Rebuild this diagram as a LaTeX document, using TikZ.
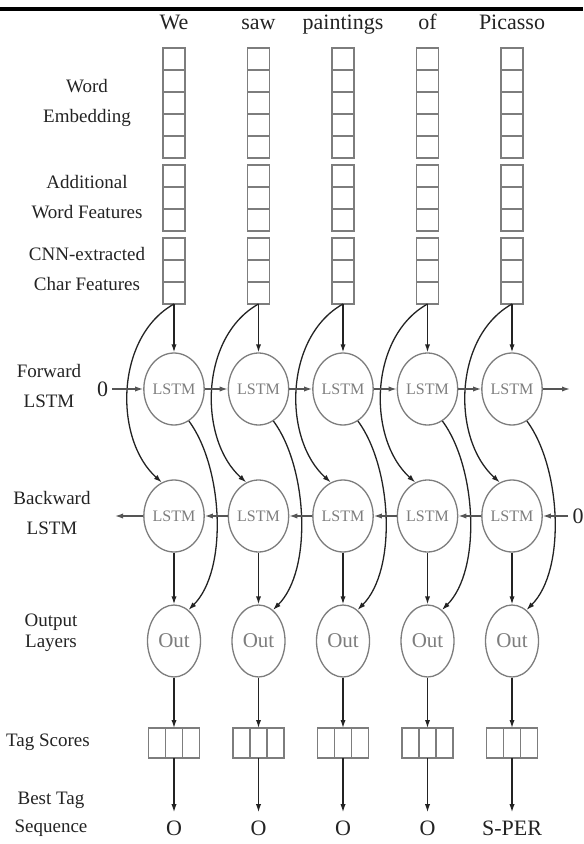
\documentclass[tikz,border=0pt]{standalone}
\usepackage{fontspec}
\setmainfont{Liberation Serif}
\usetikzlibrary{arrows.meta,positioning,shapes.geometric}
\definecolor{boxgray}{RGB}{125,125,125}
\definecolor{linkgray}{RGB}{85,85,85}
\definecolor{inkdark}{RGB}{35,35,35}

\begin{document}
\begin{tikzpicture}[
    x=5pt,y=5pt,
    cell/.style={rectangle,draw=boxgray,line width=0.65pt,minimum width=11pt,
      minimum height=11pt,inner sep=0pt,outer sep=0pt},
    tagcell/.style={rectangle,draw=boxgray,line width=0.65pt,minimum width=8.5pt,
      minimum height=15pt,inner sep=0pt,outer sep=0pt},
    lstm/.style={ellipse,draw=boxgray,line width=0.65pt,minimum width=26.5pt,
      minimum height=36pt,inner sep=0pt,text=boxgray,font=\fontsize{8}{8}\selectfont},
    outnode/.style={lstm,font=\fontsize{10.5}{10.5}\selectfont},
    word/.style={font=\fontsize{11}{11}\selectfont,inner sep=0pt,text=inkdark},
    lbl/.style={align=center,font=\fontsize{9.5}{15}\selectfont,inner sep=0pt,text=inkdark},
    arrow/.style={-{Latex[length=4pt,width=2.6pt]},line width=0.65pt,draw=inkdark},
    recur/.style={arrow,draw=linkgray}
  ]
    \useasboundingbox (0,0) rectangle (58.3,-84.4);
    \fill (0,-0.7) rectangle (58.3,-1.1);

    % row labels
    \node[lbl] (lemb) at (8.7,-10.3) {Word\\Embedding};
    \node[lbl] (lfeat) at (8.7,-19.75) {Additional\\Word Features};
    \node[lbl] (lchar) at (8.7,-26.9) {CNN-extracted\\Char Features};
    \node[lbl] (lfwd) at (4.9,-38.6) {Forward\\LSTM};
    \node[lbl] (lbwd) at (5.2,-51.3) {Backward\\LSTM};
    \node[lbl] (lout) at (5.1,-63.25) {Output\\[-4.5pt]Layers};
    \node[lbl] (ltag) at (4.8,-74.2) {Tag Scores};
    \node[lbl] (lbest) at (5.1,-81.4) {Best Tag\\[-1pt]Sequence};

    % one column per word
    \foreach \c/\x/\w/\t in {1/17.4/We/O, 2/25.85/saw/O, 3/34.3/paintings/O,
                             4/42.75/of/O, 5/51.2/Picasso/S-PER} {
      \node[word,anchor=base] (w\c) at (\x,-2.95) {\w};
      \node[cell] (e\c-1) at (\x,-5.9) {};
      \foreach \k [count=\j from 2] in {1,...,4}
        \node[cell,below=0pt of e\c-\k] (e\c-\j) {};
      \node[cell,below=3.5pt of e\c-5] (a\c-1) {};
      \node[cell,below=0pt of a\c-1] (a\c-2) {};
      \node[cell,below=0pt of a\c-2] (a\c-3) {};
      \node[cell,below=3.5pt of a\c-3] (ch\c-1) {};
      \node[cell,below=0pt of ch\c-1] (ch\c-2) {};
      \node[cell,below=0pt of ch\c-2] (ch\c-3) {};

      \node[lstm] (f\c) at (\x,-38.9) {LSTM};
      \node[lstm] (b\c) at (\x,-51.6) {LSTM};
      \node[outnode] (o\c) at (\x,-64.1) {Out};
      \node[tagcell] (t\c-2) at (\x,-74.3) {};
      \node[tagcell,left=0pt of t\c-2] (t\c-1) {};
      \node[tagcell,right=0pt of t\c-2] (t\c-3) {};
      \node[word,inner sep=4pt] (s\c) at (\x,-82.8) {\t};

      \draw[arrow] (ch\c-3) -- (f\c);
      \draw[arrow] (ch\c-3.south) .. controls +(-5.9,-3.3) and +(-4.8,4.3) .. (b\c.110);
      \draw[arrow] (f\c.-65) .. controls +(3.4,-4.6) and +(4.0,4.0) .. (o\c.65);
      \draw[arrow] (b\c) -- (o\c);
      \draw[arrow] (o\c) -- (t\c-2);
      \draw[arrow] (t\c-2) -- (s\c);
    }

    % recurrent links
    \node[word,inner sep=2pt] (zf) at (10.25,-38.9) {0};
    \node[word,inner sep=2pt] (zb) at (57.8,-51.6) {0};
    \coordinate (fend) at (57.0,-38.9);
    \coordinate (bend) at (11.5,-51.6);
    \draw[recur] (zf) -- (f1);
    \foreach \c [count=\n from 2] in {1,...,4} {
      \draw[recur] (f\c) -- (f\n);
      \draw[recur] (b\n) -- (b\c);
    }
    \draw[recur] (f5) -- (fend);
    \draw[recur] (zb) -- (b5);
    \draw[recur] (b1) -- (bend);
  \end{tikzpicture}
\end{document}
